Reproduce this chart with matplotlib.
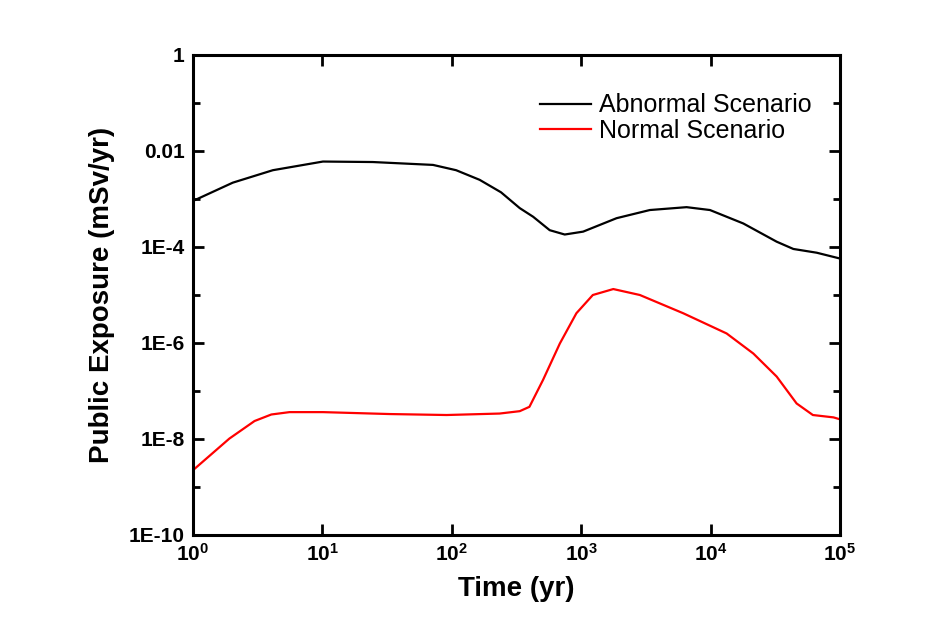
import numpy as np
import matplotlib
matplotlib.use('Agg')
import matplotlib.pyplot as plt
from matplotlib.ticker import FixedLocator, FixedFormatter, NullLocator, NullFormatter

# ── Data ────────────────────────────────────────────────────────────────
ABN_T = [1, 2.03, 4.14, 10.1, 24.5, 71.6, 108, 164, 240, 335, 425, 571, 746,
         1035, 1875, 3390, 6520, 9890, 17900, 32400, 43600, 66100, 100000]
ABN_V = [9.1e-4, 2.19e-3, 3.98e-3, 6.03e-3, 5.89e-3, 5.13e-3, 3.98e-3,
         2.51e-3, 1.38e-3, 6.46e-4, 4.27e-4, 2.24e-4, 1.82e-4, 2.09e-4,
         3.98e-4, 5.89e-4, 6.76e-4, 5.89e-4, 3.09e-4, 1.29e-4, 9.1e-5,
         7.6e-5, 5.75e-5]

NOR_T = [1, 1.91, 2.99, 4.03, 5.57, 10.1, 33.1, 91.2, 234, 335, 398, 507,
         684, 918, 1230, 1770, 2840, 6140, 13300, 21400, 32400, 46200,
         61700, 89100, 100000]
NOR_V = [2.24e-9, 1.02e-8, 2.37e-8, 3.24e-8, 3.63e-8, 3.63e-8, 3.31e-8,
         3.16e-8, 3.39e-8, 3.8e-8, 4.68e-8, 1.7e-7, 9.77e-7, 4.17e-6,
         1.0e-5, 1.33e-5, 1.0e-5, 4.17e-6, 1.58e-6, 6.03e-7, 2.0e-7, 5.5e-8,
         3.16e-8, 2.82e-8, 2.57e-8]

Y_TICKS = [1, 1e-2, 1e-4, 1e-6, 1e-8, 1e-10]
Y_LABELS = ["1", "0.01", "1E-4", "1E-6", "1E-8", "1E-10"]
Y_MINOR = [1e-1, 1e-3, 1e-5, 1e-7, 1e-9]
X_TICKS = [1, 10, 100, 1000, 10000, 100000]
X_LABELS = [r"$\mathbf{10^{%d}}$" % i for i in range(6)]

# ── Style ───────────────────────────────────────────────────────────────
plt.rcParams['font.family'] = ['Liberation Sans', 'DejaVu Sans']
plt.rcParams['mathtext.fontset'] = 'custom'
plt.rcParams['mathtext.rm'] = 'Liberation Sans:bold'
plt.rcParams['mathtext.it'] = 'Liberation Sans:bold'
plt.rcParams['mathtext.bf'] = 'Liberation Sans:bold'

fig = plt.figure(figsize=(9.49, 6.34), dpi=100)
ax = fig.add_axes([193 / 949, 1 - 535 / 634, 647 / 949, 480 / 634])

ax.plot(ABN_T, ABN_V, color="black", linewidth=1.6, label="Abnormal Scenario")
ax.plot(NOR_T, NOR_V, color="#ff0000", linewidth=1.6, label="Normal Scenario")

ax.set_xscale("log")
ax.set_yscale("log")
ax.set_xlim(1, 1e5)
ax.set_ylim(1e-10, 1)

ax.xaxis.set_major_locator(FixedLocator(X_TICKS))
ax.xaxis.set_major_formatter(FixedFormatter(X_LABELS))
ax.xaxis.set_minor_locator(NullLocator())
ax.yaxis.set_major_locator(FixedLocator(Y_TICKS))
ax.yaxis.set_major_formatter(FixedFormatter(Y_LABELS))
ax.yaxis.set_minor_locator(FixedLocator(Y_MINOR))
ax.yaxis.set_minor_formatter(NullFormatter())

ax.tick_params(which="both", direction="in", top=True, right=True, width=2)
ax.tick_params(which="major", length=8, labelsize=15, pad=6)
ax.tick_params(which="minor", length=5)
for lbl in ax.get_yticklabels():
    lbl.set_fontweight("bold")
for sp in ax.spines.values():
    sp.set_linewidth(2.2)

ax.set_xlabel("Time (yr)", fontsize=20, fontweight="bold", labelpad=8)
ax.set_ylabel("Public Exposure (mSv/yr)", fontsize=20, fontweight="bold", labelpad=10)

ax.legend(loc="upper left", bbox_to_anchor=(0.536, 0.92), frameon=False,
          fontsize=18, handlelength=2.05, handletextpad=0.3, labelspacing=0.05,
          borderpad=0, borderaxespad=0)

fig.savefig("out.png", dpi=100)
